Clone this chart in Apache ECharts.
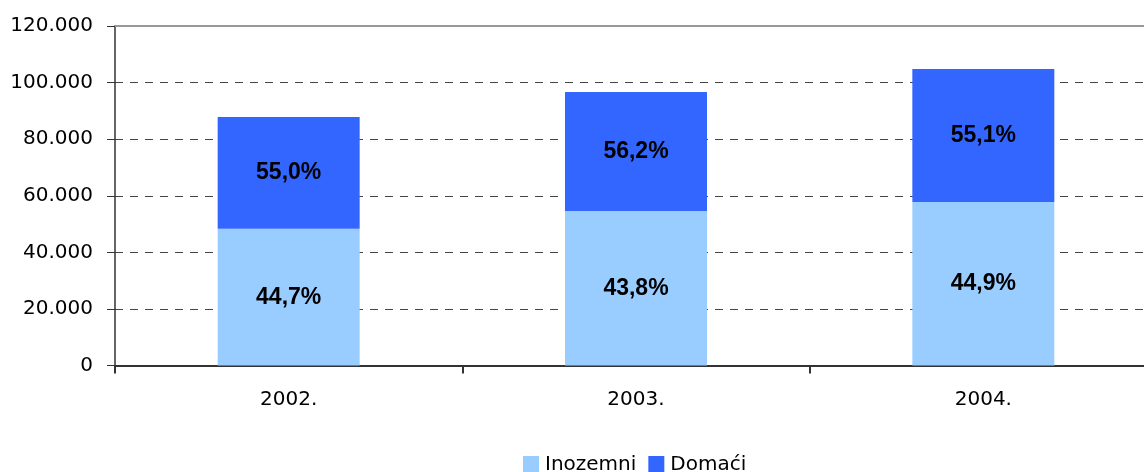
<!DOCTYPE html>
<html>
<head>
<meta charset="UTF-8">
<title>Inozemni / Domaći</title>
<style type="text/css">
	html, body { margin: 0; padding: 0; background: #fff; }
	#chart { width: 1144px; height: 472px; }
</style>
<script type="text/javascript" src="https://cdn.jsdelivr.net/npm/echarts@6/dist/echarts.min.js"></script>
</head>
<body>
<div id="chart"></div>
<script type="text/javascript">
	// podaci ocitani sa slike
	var years = ['2002.', '2003.', '2004.'];
	var inozemni = [48300, 54600, 57800];
	var domaci = [39500, 42100, 47000];
	var inozemniPct = ['44,7%', '43,8%', '44,9%'];
	var domaciPct = ['55,0%', '56,2%', '55,1%'];
	var yTicks = { min: 0, max: 120000, interval: 20000 };

	function fmt(v) {
		// 120000 -> 120.000
		return String(v).replace(/\B(?=(\d{3})+(?!\d))/g, '.');
	}

	var font = '"DejaVu Sans", sans-serif';
	var boldFont = '"Liberation Sans", Arial, sans-serif';
	var mychar = echarts.init(document.getElementById('chart'));

	var labelStyle = {
		show: true,
		position: 'inside',
		color: '#000',
		fontWeight: 'bold',
		fontSize: 23,
		fontFamily: boldFont
	};

	var option = {
		animation: false,
		grid: { left: 115, top: 26, width: 1042, height: 339.5, containLabel: false, outerBoundsMode: 'none' },
		legend: {
			left: 523,
			top: 455,
			padding: 0,
			itemWidth: 16,
			itemHeight: 18,
			itemGap: 12,
			icon: 'rect',
			textStyle: { fontSize: 20, fontFamily: font, color: '#000', padding: [0, 0, 0, 1] },
			data: ['Inozemni', 'Domaći']
		},
		xAxis: [{
			type: 'category',
			data: years,
			axisLine: { lineStyle: { color: '#333', width: 2 } },
			axisTick: { show: true, length: 8, lineStyle: { color: '#333', width: 2 } },
			axisLabel: { fontSize: 20, fontFamily: font, color: '#000', margin: 24 }
		}, {
			type: 'category',
			position: 'top',
			data: years,
			axisLine: { onZero: false, lineStyle: { color: '#999', width: 2 } },
			axisTick: { show: false },
			axisLabel: { show: false }
		}],
		yAxis: {
			type: 'value',
			min: yTicks.min,
			max: yTicks.max,
			interval: yTicks.interval,
			axisLine: { show: true, lineStyle: { color: '#333', width: 1.5 } },
			axisTick: { show: true, length: 8, lineStyle: { color: '#333' } },
			axisLabel: { fontSize: 20, fontFamily: font, color: '#000', margin: 22, formatter: fmt },
			splitLine: { show: true, lineStyle: { color: '#444', type: [8, 7], width: 1 } }
		},
		series: [{
			name: 'Inozemni',
			type: 'bar',
			stack: 'ukupno',
			barWidth: 142,
			data: inozemni,
			itemStyle: { color: '#99CCFF' },
			label: Object.assign({}, labelStyle, {
				formatter: function (p) { return inozemniPct[p.dataIndex]; }
			})
		}, {
			name: 'Domaći',
			type: 'bar',
			stack: 'ukupno',
			barWidth: 142,
			data: domaci,
			itemStyle: { color: '#3366FF' },
			label: Object.assign({}, labelStyle, {
				formatter: function (p) { return domaciPct[p.dataIndex]; }
			})
		}]
	};
	mychar.setOption(option);
</script>
</body>
</html>
